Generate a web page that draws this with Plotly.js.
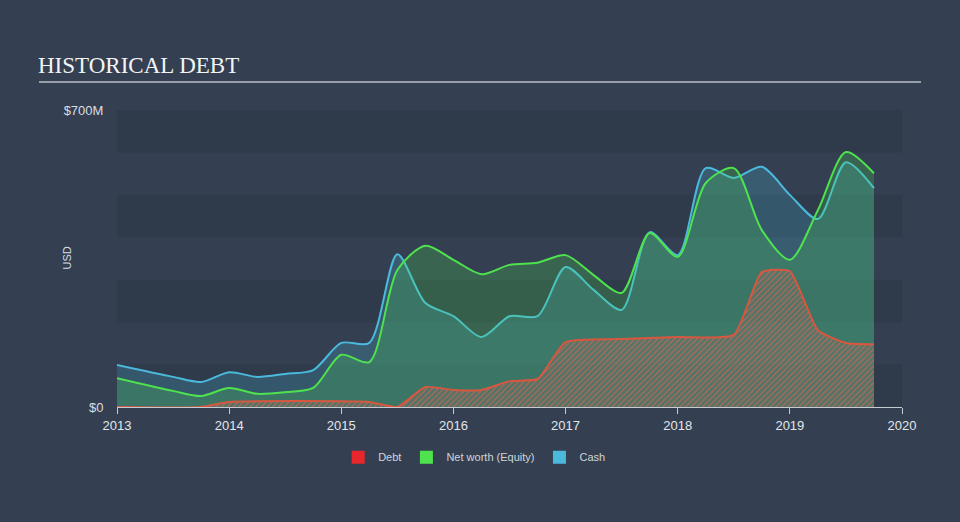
<!DOCTYPE html>
<html>
<head>
<meta charset="utf-8">
<script src="https://cdn.plot.ly/plotly-3.0.1.min.js"></script>
<style>
html,body{margin:0;padding:0;background:#344051;}
#chart{width:960px;height:522px;}
</style>
</head>
<body>
<div id="chart"></div>
<script>
// Dates as fractional years
const debtX   = [2013.0, 2013.75, 2014.0, 2015.25, 2015.5, 2015.75, 2016.0, 2016.25, 2016.5, 2016.75, 2017.0, 2017.5, 2018.0, 2018.5, 2018.75, 2019.0, 2019.25, 2019.5, 2019.75];
const debtY   = [0, 0, 12, 12, 0, 47, 40, 40, 61, 66, 153, 160, 165, 170, 318, 320, 181, 151, 148];

const seriesX = [2013.0, 2013.5, 2013.75, 2014.0, 2014.25, 2014.5, 2014.75, 2015.0, 2015.25, 2015.5, 2015.75, 2016.0, 2016.25, 2016.5, 2016.75, 2017.0, 2017.25, 2017.5, 2017.75, 2018.0, 2018.25, 2018.5, 2018.75, 2019.0, 2019.25, 2019.5, 2019.75];
const equityY = [68, 38, 26, 45, 31, 35, 45, 123, 106, 323, 380, 347, 313, 335, 340, 358, 311, 269, 410, 354, 528, 563, 417, 347, 464, 601, 551];
const cashY   = [99, 71, 59, 82, 71, 78, 87, 151, 151, 360, 245, 214, 165, 214, 214, 330, 276, 229, 412, 358, 563, 540, 566, 500, 443, 577, 516];

const yTickVals = [0, 700];
const yTickText = ['$0', '$700M'];
const xTickVals = [2013, 2014, 2015, 2016, 2017, 2018, 2019, 2020];
const legendNames = ['Debt', 'Net worth (Equity)', 'Cash'];
const legendColors = ['#e8262b', '#4fe24f', '#4ab9dc'];

const traces = [
  {x: seriesX, y: cashY, type: 'scatter', mode: 'lines', line: {shape: 'spline', smoothing: 0.8, color: '#4ab9dc', width: 2}, fill: 'tozeroy', fillcolor: 'rgba(74,184,220,0.23)', showlegend: false, hoverinfo: 'skip'},
  {x: seriesX, y: equityY, type: 'scatter', mode: 'lines', line: {shape: 'spline', smoothing: 0.8, color: '#4fe24f', width: 2}, fill: 'tozeroy', fillcolor: 'rgba(78,228,78,0.22)', showlegend: false, hoverinfo: 'skip'},
  {x: debtX, y: debtY, type: 'scatter', mode: 'lines', line: {shape: 'spline', smoothing: 0.5, color: '#d9573f', width: 2}, fill: 'tozeroy', fillcolor: 'rgba(120,110,100,0.3)',
   fillpattern: {shape: '/', fgcolor: 'rgba(205,100,85,0.75)', bgcolor: 'rgba(125,118,108,0.3)', size: 4, solidity: 0.35}, showlegend: false, hoverinfo: 'skip'}
];
legendNames.forEach((n, i) => {
  traces.push({x: [null], y: [null], type: 'scatter', mode: 'markers', name: n, marker: {symbol: 'square', size: 13, color: legendColors[i]}, showlegend: true});
});

const shapes = [];
[0, 200, 400, 600].forEach(v => {
  shapes.push({type: 'rect', xref: 'paper', yref: 'y', x0: 0, x1: 1, y0: v, y1: v + 100, fillcolor: 'rgba(25,35,50,0.18)', line: {width: 0}, layer: 'below'});
});
// title underline (pixel y=82; plot spans y 110..407)
shapes.push({type: 'line', xref: 'paper', yref: 'paper', x0: -78/785, x1: (921-117)/785, y0: (407-82)/297, y1: (407-82)/297, line: {color: '#b8bec6', width: 1.5}});

const layout = {
  width: 960, height: 522,
  paper_bgcolor: '#344051', plot_bgcolor: 'rgba(0,0,0,0)',
  margin: {l: 117, r: 58, t: 110, b: 115},
  font: {family: 'Liberation Sans, Arial, sans-serif', color: '#d8dde3'},
  xaxis: {range: [2013, 2020], tickvals: xTickVals, ticktext: xTickVals.map(String), showgrid: false, zeroline: false,
          showline: true, linecolor: '#c4cbd3', linewidth: 1, ticks: 'outside', ticklen: 6, tickcolor: '#c4cbd3',
          tickfont: {size: 13, color: '#e2e6ea'}, fixedrange: true},
  yaxis: {range: [0, 700], tickvals: yTickVals, ticktext: yTickText, showgrid: false, zeroline: false, showline: false,
          ticks: 'outside', ticklen: 10, tickcolor: 'rgba(0,0,0,0)', tickfont: {size: 13, color: '#d8dde3'}, fixedrange: true},
  legend: {orientation: 'h', x: 0.455, xanchor: 'center', y: -0.12, yanchor: 'top', font: {size: 11, color: '#d0d5da'}, bgcolor: 'rgba(0,0,0,0)'},
  shapes: shapes,
  annotations: [
    {text: 'HISTORICAL DEBT', xref: 'paper', yref: 'paper', x: -81/785, y: (407-80)/297, xanchor: 'left', yanchor: 'bottom', showarrow: false,
     font: {family: 'Liberation Serif, Times New Roman, serif', size: 23, color: '#f2f4f6'}},
    {text: 'USD', xref: 'paper', yref: 'paper', x: (66-117)/785, y: 0.5, xanchor: 'center', yanchor: 'middle', textangle: -90, showarrow: false,
     font: {size: 11, color: '#d8dde3'}}
  ]
};

Plotly.newPlot('chart', traces, layout, {displayModeBar: false, staticPlot: true});
</script>
</body>
</html>
